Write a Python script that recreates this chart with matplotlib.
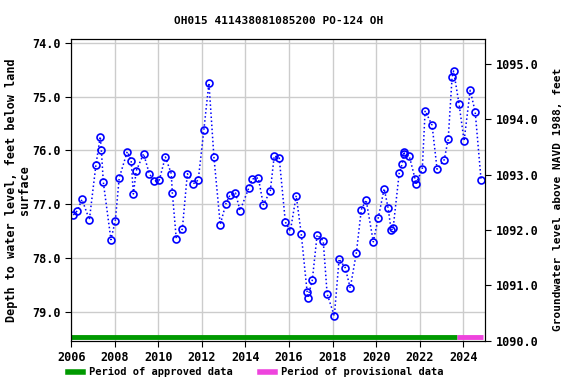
# coding: utf-8

import numpy as np
import matplotlib
matplotlib.use("agg")
import matplotlib.pyplot as plt
from matplotlib.lines import Line2D
from matplotlib.font_manager import FontProperties

# Observation dates (decimal years) and depth to water, feet below land surface
years = [2006.09, 2006.28, 2006.49, 2006.83, 2007.13, 2007.33, 2007.38, 2007.47,
         2007.82, 2008.02, 2008.20, 2008.57, 2008.75, 2008.85, 2008.98, 2009.32,
         2009.58, 2009.81, 2010.04, 2010.32, 2010.59, 2010.64, 2010.82, 2011.10,
         2011.33, 2011.60, 2011.83, 2012.09, 2012.32, 2012.55, 2012.84, 2013.10,
         2013.30, 2013.54, 2013.75, 2014.15, 2014.31, 2014.59, 2014.82, 2015.14,
         2015.32, 2015.55, 2015.83, 2016.06, 2016.33, 2016.56, 2016.83, 2016.86,
         2017.07, 2017.29, 2017.57, 2017.75, 2018.08, 2018.30, 2018.58, 2018.81,
         2019.09, 2019.32, 2019.54, 2019.87, 2020.10, 2020.37, 2020.55, 2020.69,
         2020.78, 2021.06, 2021.20, 2021.28, 2021.30, 2021.52, 2021.79, 2021.81,
         2022.12, 2022.25, 2022.57, 2022.80, 2023.13, 2023.31, 2023.49, 2023.56,
         2023.81, 2024.04, 2024.32, 2024.55, 2024.82]
depth = [77.20, 77.12, 76.91, 77.29, 76.27, 75.74, 75.99, 76.59,
         77.66, 77.31, 76.51, 76.02, 76.19, 76.81, 76.38, 76.06,
         76.43, 76.57, 76.55, 76.12, 76.43, 76.79, 77.64, 77.46,
         76.43, 76.62, 76.55, 75.61, 74.74, 76.12, 77.38, 76.99,
         76.82, 76.79, 77.12, 76.70, 76.53, 76.51, 77.01, 76.75,
         76.10, 76.14, 77.33, 77.50, 76.84, 77.55, 78.63, 78.74,
         78.41, 77.57, 77.68, 78.67, 79.08, 78.02, 78.18, 78.56,
         77.91, 77.10, 76.92, 77.70, 77.25, 76.71, 77.07, 77.48,
         77.45, 76.42, 76.25, 76.02, 76.06, 76.10, 76.53, 76.63,
         76.35, 75.26, 75.53, 76.35, 76.17, 75.79, 74.63, 74.52,
         75.14, 75.82, 74.88, 75.28, 76.55]

# Approval periods
approved_span = [2006.0, 2023.71]
provisional_span = [2023.71, 2024.91]

title = "OH015 411438081085200 PO-124 OH"


def fp(size):
    return FontProperties(family="DejaVu Sans Mono", weight="bold", size=size)


fig = plt.figure(figsize=(5.76, 3.84), dpi=100)
ax = fig.add_axes([0.1238, 0.1128, 0.7182, 0.7849])

ax.plot(years, depth, ls=":", lw=1.1, color="blue", marker="o", ms=5.0,
        mfc="none", mec="blue", mew=1.2)

bar_y = 79.47
ax.plot(approved_span, [bar_y, bar_y], color="#009900", lw=3.5,
        solid_capstyle="butt")
ax.plot(provisional_span, [bar_y, bar_y], color="#ee44dd", lw=3.5,
        solid_capstyle="butt")

ax.set_xlim(2006, 2025)
ax.set_ylim(79.54, 73.93)
ax.set_xticks(np.arange(2006, 2025, 2))
ax.set_yticks(np.arange(74, 80, 1.0))
ax.set_yticklabels(["{:.1f}".format(v) for v in np.arange(74, 80, 1.0)])
ax.grid(True, color="#cccccc", lw=1)
ax.set_axisbelow(True)
ax.tick_params(direction="out", length=4)
for lbl in ax.get_xticklabels() + ax.get_yticklabels():
    lbl.set_fontproperties(fp(8.5))
ax.set_ylabel("Depth to water level, feet below land\nsurface",
              fontproperties=fp(8.5), linespacing=1.0, labelpad=1)
ax.set_title(title, fontproperties=fp(8), pad=11)

# Right axis: elevation
ax2 = ax.twinx()
ax2.set_ylim(1090.0, 1095.45)
ax2.set_yticks(np.arange(1090, 1096, 1.0))
ax2.set_yticklabels(["{:.1f}".format(v) for v in np.arange(1090, 1096, 1.0)])
ax2.tick_params(direction="out", length=4)
for lbl in ax2.get_yticklabels():
    lbl.set_fontproperties(fp(8.5))
ax2.set_ylabel("Groundwater level above NAVD 1988, feet",
               fontproperties=fp(8), labelpad=11)
ax2.yaxis.label.set_y(0.47)

handles = [Line2D([], [], color="#009900", lw=4),
           Line2D([], [], color="#ee44dd", lw=4)]
fig.legend(handles, ["Period of approved data", "Period of provisional data"],
           loc="center", bbox_to_anchor=(0.444, 0.03), ncol=2, frameon=False,
           handlelength=1.45, handletextpad=0.6, columnspacing=2.6,
           prop=fp(7.5))

plt.savefig("out.png", dpi=100)
